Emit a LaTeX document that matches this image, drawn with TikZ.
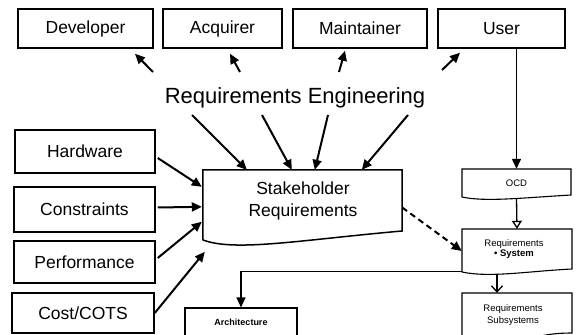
\documentclass[tikz,border=0pt]{standalone}
\usepackage{fontspec}
\setmainfont{Liberation Sans}
\usetikzlibrary{arrows.meta,calc}
\begin{document}
\begin{tikzpicture}[x=1pt,y=-1pt,
  big/.style={draw, line width=1.5pt, inner sep=0pt, font=\fontsize{17.5}{20}\selectfont},
  holder/.style={inner sep=0pt},
  smalltext/.style={inner sep=0pt, align=center},
  arr/.style={line width=2pt, -{Triangle[length=10pt,width=9pt]}},
  dasharr/.style={line width=2pt, dash pattern=on 6pt off 4pt, -{Triangle[length=10pt,width=9pt]}},
  thinarr/.style={line width=1.4pt, -{Triangle[length=10pt,width=9pt]}},
  openarr/.style={line width=1.3pt, -{Triangle[open,length=8pt,width=10pt]}},
  barbarr/.style={line width=1.3pt, -{Straight Barb[length=6pt,width=11pt]}},
  docline/.style={line width=1.1pt}]
\useasboundingbox (0,0) rectangle (579,335);

% top row
\node[big, minimum width=135pt, minimum height=39pt] (dev) at (85.5,28.5) {Developer};
\node[big, minimum width=119pt, minimum height=39pt] (acq) at (222.5,28.5) {Acquirer};
\node[big, minimum width=134pt, minimum height=39pt] (mnt) at (360,28.5) {Maintainer};
\node[big, minimum width=127pt, minimum height=39pt] (usr) at (501.5,28.5) {User};

% requirements engineering
\node[inner sep=0pt, anchor=base, font=\fontsize{22}{26}\selectfont] (re) at (295,103) {Requirements Engineering};

% left column
\node[big, minimum width=140pt, minimum height=43pt] (hw) at (85,151.5) {Hardware};
\node[big, minimum width=141pt, minimum height=45pt] (con) at (84.5,209.5) {Constraints};
\node[big, minimum width=141pt, minimum height=42pt] (perf) at (84.5,262) {Performance};
\node[big, minimum width=142pt, minimum height=40pt] (cost) at (83,313) {Cost/COTS};

% stakeholder requirements (document shape)
\node[holder, minimum width=199pt, minimum height=75pt] (stake) at (302.5,207.5) {};
\draw[line width=1.5pt] (stake.north west) -- (stake.north east) -- (402,231)
  .. controls (300,240) and (235,252) .. (203,240) -- cycle;
\node[smalltext, font=\fontsize{17.5}{22}\selectfont] (staket) at (303,201.4) {Stakeholder\\Requirements};

% right column
\node[holder, minimum width=109pt, minimum height=29pt, font=\fontsize{9.5}{11}\selectfont] (ocd) at (516.5,183.5) {OCD};
\draw[docline] (462,169) -- (571,169) -- (571,195) .. controls (520,198) and (485,202) .. (462,197) -- cycle;

\node[holder, minimum width=110pt, minimum height=44pt] (reqs) at (517,251) {};
\draw[docline] (462,229) -- (572,229) -- (572,269) .. controls (530,271) and (490,278) .. (462,272) -- cycle;
\node[smalltext, font=\fontsize{9.5}{10.5}\selectfont] (reqst) at (514,249) {Requirements\\\textbf{• System}};

\node[holder, minimum width=110pt, minimum height=41pt] (subs) at (517,313.5) {};
\draw[docline] (462,337) -- (462,293) -- (572,293) -- (572,333) .. controls (545,333) and (535,338) .. (525,340);
\node[smalltext, font=\fontsize{9.5}{12}\selectfont] (subst) at (513,315) {Requirements\\Subsystems};

\node[holder, draw, line width=1.1pt, minimum width=112pt, minimum height=28pt, font=\fontsize{9}{10}\selectfont\bfseries] (arch) at (241,322) {Architecture};

% arrows: RE to stakeholders
\coordinate (t1) at (153,72);
\coordinate (t2) at (240,72);
\coordinate (t3) at (339,72);
\coordinate (t4) at (442,70);
\draw[arr] (t1) -- ($(dev.south)+(49.5,5)$);
\draw[arr] (t2) -- ($(acq.south)+(7.5,5)$);
\draw[arr] (t3) -- ($(mnt.south)+(-15,2)$);
\draw[arr] (t4) -- ($(usr.south)+(-41.5,4)$);

% arrows: RE to stakeholder requirements
\coordinate (b1) at (192,115);
\coordinate (b2) at (262,115);
\coordinate (b3) at (328,115);
\coordinate (b4) at (408,115);
\draw[arr] (b1) -- ($(stake.north west)+(44,0)$);
\draw[arr] (b2) -- ($(stake.north west)+(89,0)$);
\draw[arr] (b3) -- ($(stake.north west)+(112,0)$);
\draw[arr] (b4) -- ($(stake.north west)+(159,0)$);

% arrows: left inputs
\draw[arr] ($(hw.east)+(2,6.5)$) -- ($(stake.north west)+(-1,17)$);
\draw[arr] ($(con.east)+(2,-2)$) -- ($(stake.north west)+(-1,37)$);
\draw[arr] ($(perf.east)+(2,-4)$) -- ($(stake.north west)+(-1,52)$);
\draw[arr] (cost.east) -- ($(stake.north west)+(2,82)$);

% dashed
\draw[dasharr] (stake.east) -- (reqs.west);

% user to OCD and down
\draw[thinarr] (usr.south -| ocd.north) -- (ocd.north);
\draw[openarr] (ocd.south) -- (reqs.north);
\draw[barbarr] ($(reqs.south)+(-20,1)$) -- ($(subs.north)+(-20,0)$);
\draw[thinarr] ($(reqs.south west)+(0,-2)$) -| (arch.north);
\end{tikzpicture}
\end{document}
